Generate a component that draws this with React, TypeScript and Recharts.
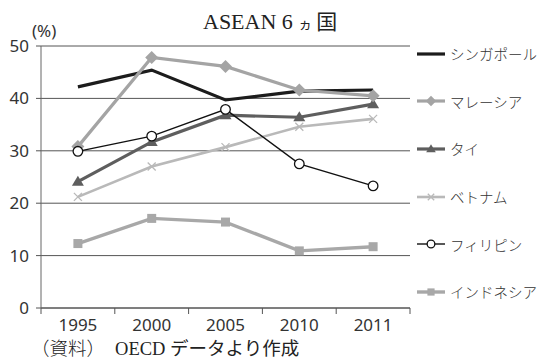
import React from 'react';
import { LineChart, Line, XAxis, YAxis, CartesianGrid } from 'recharts';

const years = ['1995', '2000', '2005', '2010', '2011'];
const singapore = [42.2, 45.4, 39.7, 41.4, 41.6];
const malaysia = [30.8, 47.8, 46.1, 41.6, 40.5];
const thailand = [24.1, 31.7, 36.8, 36.4, 38.9];
const vietnam = [21.2, 27.0, 30.7, 34.6, 36.1];
const philippines = [29.9, 32.8, 37.9, 27.5, 23.3];
const indonesia = [12.3, 17.1, 16.4, 10.9, 11.7];
const yTicks = [0, 10, 20, 30, 40, 50];
const titleLatin = 'ASEAN 6 ';
const titleJp = 'ヵ国';
const sourceLabel = '（資料）';
const sourceText = 'OECD データより作成';
const unit = '(%)';

const data = years.map((y, i) => ({
  year: y,
  sg: singapore[i],
  my: malaysia[i],
  th: thailand[i],
  vn: vietnam[i],
  ph: philippines[i],
  id: indonesia[i],
}));

const SANS = "'Noto Sans', 'Noto Sans CJK JP', sans-serif";
const JP = "'Noto Sans CJK JP', 'Noto Sans', sans-serif";
const SERIF = "'Liberation Serif', 'DejaVu Serif', 'Noto Sans CJK JP', serif";

type Shape = 'none' | 'diamond' | 'triangle' | 'cross' | 'circle' | 'square';

const Marker = ({ cx, cy, shape, color, scale = 1 }: { cx: number; cy: number; shape: Shape; color: string; scale?: number }) => {
  if (cx == null || cy == null) return null;
  if (shape === 'diamond') {
    const s = 6.5 * scale;
    return <path d={`M${cx},${cy - s}L${cx + s},${cy}L${cx},${cy + s}L${cx - s},${cy}Z`} fill={color} />;
  }
  if (shape === 'triangle') {
    const w = 6 * scale;
    const h = 10 * scale;
    return <path d={`M${cx},${cy - h * 0.6}L${cx + w},${cy + h * 0.4}L${cx - w},${cy + h * 0.4}Z`} fill={color} />;
  }
  if (shape === 'cross') {
    const s = 4 * scale;
    return (
      <path d={`M${cx - s},${cy - s}L${cx + s},${cy + s}M${cx - s},${cy + s}L${cx + s},${cy - s}`} stroke={color} strokeWidth={1.3} fill="none" />
    );
  }
  if (shape === 'circle') {
    return <circle cx={cx} cy={cy} r={4.8 * scale} fill="#fff" stroke={color} strokeWidth={1.3} />;
  }
  if (shape === 'square') {
    const s = 4.5 * scale;
    return <rect x={cx - s} y={cy - s} width={2 * s} height={2 * s} fill={color} />;
  }
  return null;
};

type Series = { key: string; name: string; color: string; width: number; shape: Shape };

const legendSeries: Series[] = [
  { key: 'sg', name: 'シンガポール', color: '#1c1c1c', width: 3.2, shape: 'none' },
  { key: 'my', name: 'マレーシア', color: '#a4a4a4', width: 3.2, shape: 'diamond' },
  { key: 'th', name: 'タイ', color: '#5e5e5e', width: 3.2, shape: 'triangle' },
  { key: 'vn', name: 'ベトナム', color: '#b9b9b9', width: 2.6, shape: 'cross' },
  { key: 'ph', name: 'フィリピン', color: '#111111', width: 1.4, shape: 'circle' },
  { key: 'id', name: 'インドネシア', color: '#a8a8a8', width: 3.4, shape: 'square' },
];

const drawOrder = ['sg', 'vn', 'th', 'id', 'my', 'ph'];

const XTick = (props: any) => {
  const { x, y, payload, index, visibleTicksCount, width } = props;
  const band = width && visibleTicksCount ? width / visibleTicksCount : 74;
  const left = x - band / 2;
  const right = x + band / 2;
  return (
    <g>
      <line x1={left} x2={left} y1={y} y2={y + 6} stroke="#555" strokeWidth={1} />
      {index === visibleTicksCount - 1 && <line x1={right} x2={right} y1={y} y2={y + 6} stroke="#555" strokeWidth={1} />}
      <text x={x} y={y + 23} textAnchor="middle" fontSize={17} fill="#333" fontFamily={SANS}>
        {payload.value}
      </text>
    </g>
  );
};

export default function App() {
  return (
    <div style={{ position: 'absolute', left: 0, top: 0, width: 544, height: 361, background: '#fff', overflow: 'hidden' }}>
      <LineChart width={544} height={361} data={data} margin={{ top: 46, right: 134, bottom: 0, left: 0 }}>
        <CartesianGrid vertical={false} stroke="#555" strokeWidth={1} />
        <XAxis
          dataKey="year"
          scale="band"
          interval={0}
          tickLine={false}
          tickSize={0}
          tickMargin={0}
          height={53}
          axisLine={{ stroke: '#555', strokeWidth: 1 }}
          tick={<XTick />}
        />
        <YAxis
          domain={[0, 50]}
          ticks={yTicks}
          interval={0}
          width={41}
          tickSize={5}
          tickMargin={7}
          axisLine={{ stroke: '#666', strokeWidth: 1 }}
          tickLine={{ stroke: '#555' }}
          tick={{ fill: '#333', fontSize: 17, fontFamily: SANS }}
        />
        {drawOrder.map((k) => {
          const s = legendSeries.find((d) => d.key === k)!;
          return (
            <Line
              key={s.key}
              dataKey={s.key}
              name={s.name}
              stroke={s.color}
              strokeWidth={s.width}
              isAnimationActive={false}
              strokeLinejoin="miter"
              dot={(p: any) => <Marker key={`${s.key}-${p.index}`} cx={p.cx} cy={p.cy} shape={s.shape} color={s.color} />}
              activeDot={false}
            />
          );
        })}
      </LineChart>

      <svg width={544} height={361} style={{ position: 'absolute', left: 0, top: 0, pointerEvents: 'none' }}>
        <text x={203} y={28.5} fontFamily={SERIF} fontSize={22} fill="#222">
          {titleLatin}
          <tspan fontFamily={JP} fontSize={14}>{titleJp.slice(0, 1)}</tspan>
          <tspan fontFamily={JP} fontSize={21} dx={4}>{titleJp.slice(1)}</tspan>
        </text>
        <text x={32} y={37} fontFamily={SANS} fontSize={17} fill="#333">
          {unit}
        </text>
        <text x={31} y={355} fontFamily={SERIF} fontSize={18.5} fill="#222">
          <tspan fontFamily={JP} fontWeight={300}>{sourceLabel}</tspan>
          <tspan dx={10}>{sourceText}</tspan>
        </text>
      </svg>

      <div style={{ position: 'absolute', left: 417, top: 30 }}>
        {legendSeries.map((s) => (
          <div key={s.key} style={{ height: 47.6, display: 'flex', alignItems: 'center' }}>
            <svg width={28} height={14} style={{ display: 'block' }}>
              <line x1={0} x2={28} y1={7} y2={7} stroke={s.color} strokeWidth={s.width} />
              <Marker cx={14} cy={7} shape={s.shape} color={s.color} scale={0.8} />
            </svg>
            <span style={{ marginLeft: 5, fontFamily: JP, fontSize: 14.5, color: '#333', whiteSpace: 'nowrap', fontWeight: 300 }}>{s.name}</span>
          </div>
        ))}
      </div>
    </div>
  );
}
